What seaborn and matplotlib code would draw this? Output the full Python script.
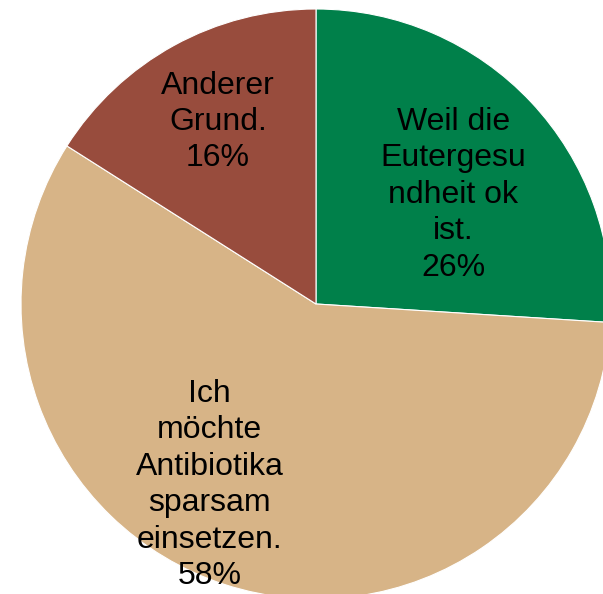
import seaborn as sns
import matplotlib.pyplot as plt

# data
labels = ['Weil die\nEutergesu\nndheit ok\nist.', 'Ich\nmöchte\nAntibiotika\nsparsam\neinsetzen.', 'Anderer\nGrund.']
shares = [26, 58, 16]
colors = ['#00804A', '#D7B487', '#984C3D']

# Label positions (data units, radius = 1)
label_pos = [(0.465, 0.37), (-0.36, -0.614), (-0.332, 0.617)]

sns.set_style('white')
plt.rcParams['font.family'] = ['Liberation Sans', 'DejaVu Sans']

fig = plt.figure(figsize=(6.03, 5.94), dpi=100)
ax = fig.add_axes([0, 0, 1, 1])

ax.pie(shares, colors=colors, startangle=90, counterclock=False, radius=1,
       wedgeprops=dict(edgecolor='white', linewidth=0.8))

for lab, val, (x, y) in zip(labels, shares, label_pos):
    ax.text(x, y, f'{lab}\n{val}%', ha='center', va='center', fontsize=23,
            color='black', linespacing=1.28)

ax.set_xlim(-316 / 295, 287 / 295)
ax.set_ylim(-290 / 295, 304 / 295)
ax.set_aspect('auto')
ax.axis('off')

fig.savefig('out.png', dpi=100)
